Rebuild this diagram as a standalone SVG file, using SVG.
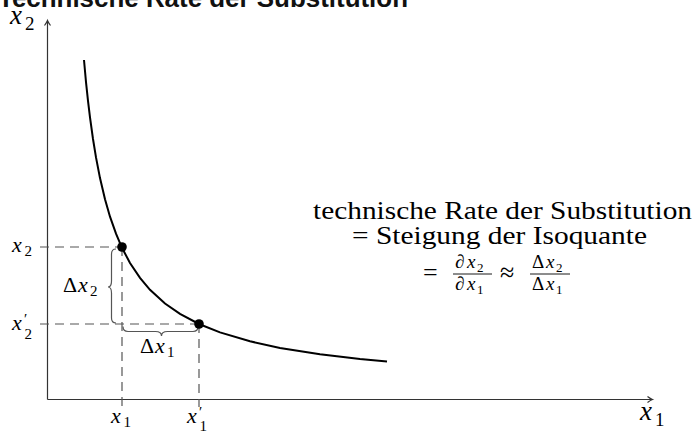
<svg xmlns="http://www.w3.org/2000/svg" width="694" height="433" viewBox="0 0 694 433">
<style>
.ax{stroke:#333;stroke-width:1.2;fill:none}
.dash{stroke:#555;stroke-width:1.2;stroke-dasharray:9 6;fill:none}
.br{stroke:#555;stroke-width:1.2;fill:none}
.curve{stroke:#000;stroke-width:2;fill:none}
</style>
<rect width="694" height="433" fill="#fff"/>
<text x="-2" y="7" font-family="Liberation Sans, Arial, sans-serif" font-weight="bold" font-size="25" fill="#111" textLength="410" lengthAdjust="spacingAndGlyphs">Technische Rate der Substitution</text>
<g id="connectors">
<g id="axes">
<line class="ax" x1="47.5" y1="399.5" x2="47.5" y2="21"/>
<path class="ax" d="M44.5,25.5 Q46.8,22.5 47.5,20.5 Q48.2,22.5 50.5,25.5"/>
<line class="ax" x1="47.5" y1="399.5" x2="652" y2="399.5"/>
<path class="ax" d="M647.5,396.5 Q650.5,398.8 652.5,399.5 Q650.5,400.2 647.5,402.5"/>
</g>
<g id="guides">
<line class="dash" x1="40" y1="247" x2="122" y2="247"/>
<line class="dash" x1="122" y1="247" x2="122" y2="407"/>
<line class="dash" x1="40" y1="324" x2="199" y2="324"/>
<line class="dash" x1="199" y1="324" x2="199" y2="407"/>
</g>
<path id="isoquant" class="curve" d="M84,60 L86,82.2 L88,100.9 L90,117.4 L93,139 L96,157.4 L100,178.1 L105,199.3 L110,216.7 L116,233.7 L122,247.8 L130,263 L140,277.9 L150,289.8 L165,303.5 L180,313.9 L199,324 L220,332.4 L250,341.3 L280,347.9 L320,354.3 L360,359 L387,361.5"/>
<g id="braces">
<path class="br" d="M116,249 Q111.5,249 111.5,254 L111.5,281 Q111.5,287 108,287 Q111.5,287 111.5,293 L111.5,318 Q111.5,323 116,323"/>
<path class="br" d="M123,326.5 Q123,331.5 128,331.5 L155.5,331.5 Q161.5,331.5 161.5,336 Q161.5,331.5 167.5,331.5 L193,331.5 Q198,331.5 198,326.5"/>
</g>
</g>
<g id="point-a"><circle cx="122" cy="247" r="4.8" fill="#000"/></g>
<g id="point-b"><circle cx="199" cy="324" r="4.8" fill="#000"/></g>
<g font-family="Liberation Serif, Times New Roman, serif" fill="#000">
<g id="axis-labels">
<text y="24" font-size="27"><tspan font-style="italic" x="10">x</tspan><tspan x="25" y="30" font-size="19">2</tspan></text>
<text y="420" font-size="27"><tspan font-style="italic" x="640">x</tspan><tspan x="655" y="426" font-size="19">1</tspan></text>
</g>
<g id="tick-labels">
<text y="252" font-size="22"><tspan font-style="italic" x="12">x</tspan><tspan x="24.5" y="256" font-size="15">2</tspan></text>
<text y="330" font-size="22"><tspan font-style="italic" x="12">x</tspan><tspan x="24" y="324" font-size="15">′</tspan><tspan x="24.5" y="339" font-size="15">2</tspan></text>
<text y="423" font-size="22"><tspan font-style="italic" x="111">x</tspan><tspan x="123.5" y="427" font-size="15">1</tspan></text>
<text y="423" font-size="22"><tspan font-style="italic" x="187">x</tspan><tspan x="199" y="417" font-size="15">′</tspan><tspan x="199.5" y="431" font-size="15">1</tspan></text>
</g>
<g id="delta-labels">
<text y="292" font-size="22"><tspan x="63">Δ</tspan><tspan font-style="italic" x="78">x</tspan><tspan x="90" y="296" font-size="15">2</tspan></text>
<text y="353" font-size="22"><tspan x="140">Δ</tspan><tspan font-style="italic" x="155">x</tspan><tspan x="167" y="357" font-size="15">1</tspan></text>
</g>
<g id="annotation">
<text x="313" y="219" font-size="25" textLength="379" lengthAdjust="spacingAndGlyphs">technische Rate der Substitution</text>
<text x="352" y="244" font-size="25" textLength="295" lengthAdjust="spacingAndGlyphs">= Steigung der Isoquante</text>
<text x="423" y="281" font-size="26">=</text>
<text y="268" font-size="19"><tspan x="455">∂</tspan><tspan font-style="italic" x="467">x</tspan><tspan x="477" y="272" font-size="13">2</tspan></text>
<line x1="453" y1="274" x2="492" y2="274" stroke="#000" stroke-width="0.9"/>
<text y="290" font-size="19"><tspan x="455">∂</tspan><tspan font-style="italic" x="467">x</tspan><tspan x="477" y="294" font-size="13">1</tspan></text>
<text x="500" y="281" font-size="26">≈</text>
<text y="268" font-size="19"><tspan x="532">Δ</tspan><tspan font-style="italic" x="546">x</tspan><tspan x="556" y="272" font-size="13">2</tspan></text>
<line x1="530" y1="274" x2="570" y2="274" stroke="#000" stroke-width="0.9"/>
<text y="290" font-size="19"><tspan x="532">Δ</tspan><tspan font-style="italic" x="546">x</tspan><tspan x="556" y="294" font-size="13">1</tspan></text>
</g>
</g>
</svg>
